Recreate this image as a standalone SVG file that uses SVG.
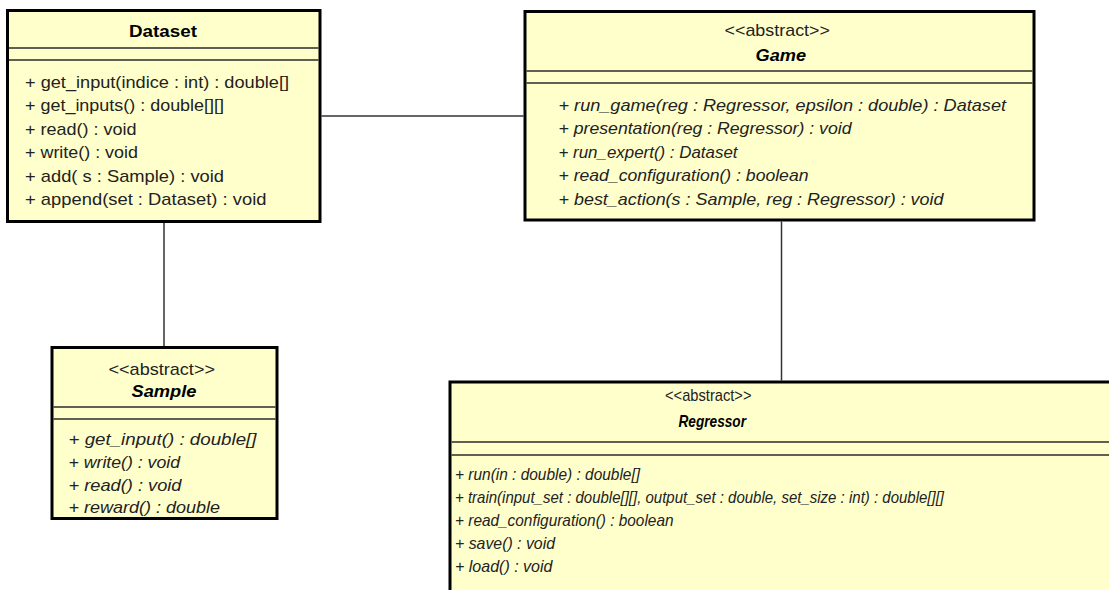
<svg xmlns="http://www.w3.org/2000/svg" width="1109" height="590" viewBox="0 0 1109 590">
  <style>
    .box { fill: #FFFFCC; stroke: #000; stroke-width: 3; }
    .sep { stroke: #2a2a2a; stroke-width: 1.5; }
    .conn { stroke: #333; stroke-width: 1.5; fill: none; }
    text { font-family: "Liberation Sans", Arial, sans-serif; font-size: 17px; fill: #222; }
    .title { font-weight: bold; fill: #000; font-size: 16.5px; }
    .abs { font-style: italic; }
  </style>
  <rect width="1109" height="590" fill="#fff"/>

  <!-- associations -->
  <g id="connectors">
    <line class="conn" x1="321.5" y1="116" x2="523.5" y2="116"/>
    <line class="conn" x1="164" y1="222.5" x2="164" y2="346"/>
    <line class="conn" x1="781.5" y1="221.5" x2="781.5" y2="380.5"/>
  </g>

  <!-- Dataset class -->
  <g id="dataset">
    <rect class="box" x="7.5" y="10.5" width="312.5" height="211"/>
    <line class="sep" x1="9" y1="48" x2="318.5" y2="48"/>
    <line class="sep" x1="9" y1="60" x2="318.5" y2="60"/>
    <text class="title" x="129" y="36.5" textLength="68" lengthAdjust="spacingAndGlyphs">Dataset</text>
    <text x="25" y="87.5" textLength="264" lengthAdjust="spacingAndGlyphs">+ get_input(indice : int) : double[]</text>
    <text x="25" y="111" textLength="199" lengthAdjust="spacingAndGlyphs">+ get_inputs() : double[][]</text>
    <text x="25" y="134.5" textLength="111.5" lengthAdjust="spacingAndGlyphs">+ read() : void</text>
    <text x="25" y="158" textLength="113" lengthAdjust="spacingAndGlyphs">+ write() : void</text>
    <text x="25" y="181.5" textLength="199" lengthAdjust="spacingAndGlyphs">+ add( s : Sample) : void</text>
    <text x="25" y="205" textLength="241.5" lengthAdjust="spacingAndGlyphs">+ append(set : Dataset) : void</text>
  </g>

  <!-- Game class -->
  <g id="game">
    <rect class="box" x="525" y="11.5" width="509" height="208.5"/>
    <line class="sep" x1="526.5" y1="71" x2="1032.5" y2="71"/>
    <line class="sep" x1="526.5" y1="83" x2="1032.5" y2="83"/>
    <text x="724.5" y="36" textLength="105.5" lengthAdjust="spacingAndGlyphs">&lt;&lt;abstract&gt;&gt;</text>
    <text class="title abs" x="755.5" y="61" textLength="50.5" lengthAdjust="spacingAndGlyphs">Game</text>
    <text class="abs" x="558.5" y="110.5" textLength="447.5" lengthAdjust="spacingAndGlyphs">+ run_game(reg : Regressor, epsilon : double) : Dataset</text>
    <text class="abs" x="558.5" y="134" textLength="293" lengthAdjust="spacingAndGlyphs">+ presentation(reg : Regressor) : void</text>
    <text class="abs" x="558.5" y="157.5" textLength="179" lengthAdjust="spacingAndGlyphs">+ run_expert() : Dataset</text>
    <text class="abs" x="558.5" y="181" textLength="250" lengthAdjust="spacingAndGlyphs">+ read_configuration() : boolean</text>
    <text class="abs" x="558.5" y="204.5" textLength="385" lengthAdjust="spacingAndGlyphs">+ best_action(s : Sample, reg : Regressor) : void</text>
  </g>

  <!-- Sample class -->
  <g id="sample">
    <rect class="box" x="52" y="347.5" width="225" height="171"/>
    <line class="sep" x1="53.5" y1="407" x2="275.5" y2="407"/>
    <line class="sep" x1="53.5" y1="419" x2="275.5" y2="419"/>
    <text x="108.5" y="375" textLength="106.5" lengthAdjust="spacingAndGlyphs">&lt;&lt;abstract&gt;&gt;</text>
    <text class="title abs" x="131.5" y="397" textLength="65" lengthAdjust="spacingAndGlyphs">Sample</text>
    <text class="abs" x="68.5" y="445" textLength="188" lengthAdjust="spacingAndGlyphs">+ get_input() : double[]</text>
    <text class="abs" x="68.5" y="467.5" textLength="111.5" lengthAdjust="spacingAndGlyphs">+ write() : void</text>
    <text class="abs" x="68.5" y="490.5" textLength="113" lengthAdjust="spacingAndGlyphs">+ read() : void</text>
    <text class="abs" x="68.5" y="513" textLength="151.5" lengthAdjust="spacingAndGlyphs">+ reward() : double</text>
  </g>

  <!-- Regressor class (runs past the canvas edge) -->
  <g id="regressor">
    <rect class="box" x="450" y="382" width="680" height="230"/>
    <line class="sep" x1="451.5" y1="442" x2="1109" y2="442"/>
    <line class="sep" x1="451.5" y1="455" x2="1109" y2="455"/>
    <text x="665" y="401" textLength="86.5" lengthAdjust="spacingAndGlyphs">&lt;&lt;abstract&gt;&gt;</text>
    <text class="title abs" x="678.5" y="427" textLength="67.5" lengthAdjust="spacingAndGlyphs">Regressor</text>
    <text class="abs" x="455" y="480" textLength="185" lengthAdjust="spacingAndGlyphs">+ run(in : double) : double[]</text>
    <text class="abs" x="455" y="503" textLength="489" lengthAdjust="spacingAndGlyphs">+ train(input_set : double[][], output_set : double, set_size : int) : double[][]</text>
    <text class="abs" x="455" y="526" textLength="218.5" lengthAdjust="spacingAndGlyphs">+ read_configuration() : boolean</text>
    <text class="abs" x="455" y="549" textLength="100" lengthAdjust="spacingAndGlyphs">+ save() : void</text>
    <text class="abs" x="455" y="572" textLength="97.5" lengthAdjust="spacingAndGlyphs">+ load() : void</text>
  </g>
</svg>
